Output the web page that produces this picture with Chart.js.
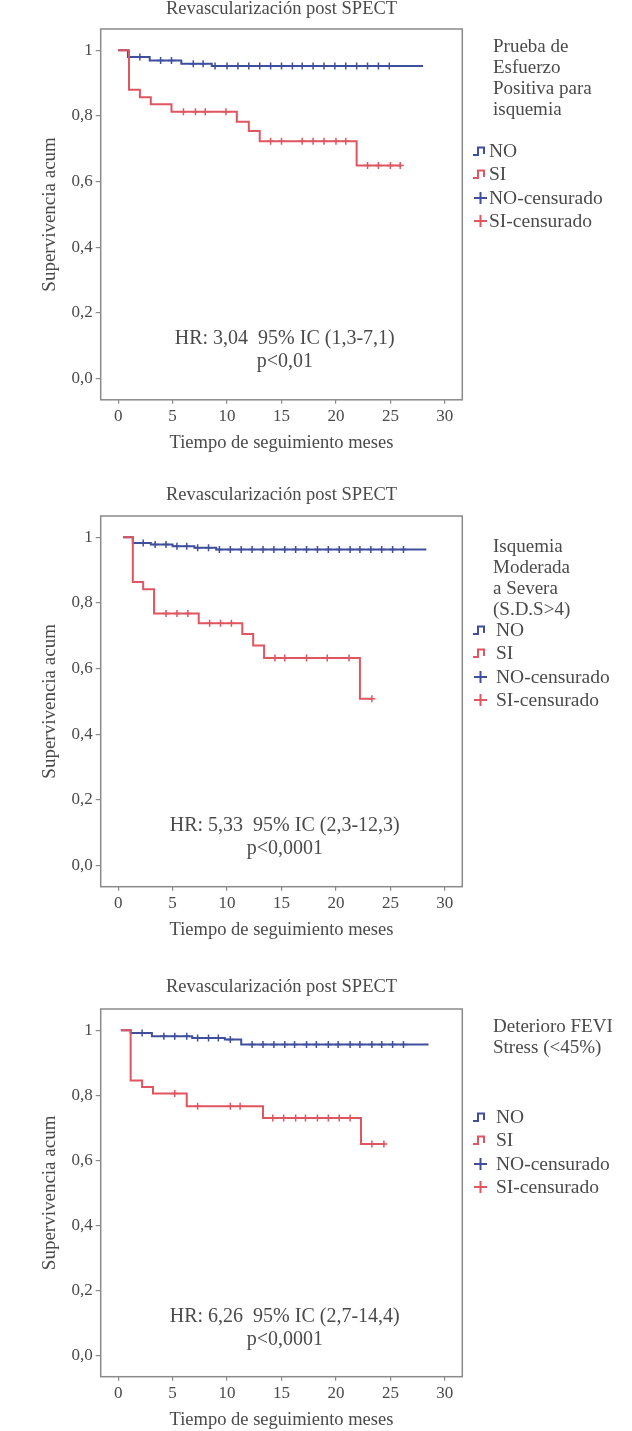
<!DOCTYPE html>
<html><head><meta charset="utf-8">
<script src="https://cdn.jsdelivr.net/npm/chart.js@4.4.1/dist/chart.umd.min.js"></script>
<style>
html,body{margin:0;padding:0;background:#fff;width:632px;height:1431px;overflow:hidden;position:relative}
canvas{position:absolute;left:0}
.lgt{position:absolute;left:493px;font-family:'Liberation Serif',serif;font-size:19px;color:#4a4a4a;line-height:21px;white-space:nowrap}
.lgi{position:absolute;left:473px;font-family:'Liberation Serif',serif;font-size:19.5px;color:#4a4a4a;white-space:nowrap}
.row{display:flex;align-items:center;height:23.5px}
.row svg{flex:none}
</style>
</head><body>
<canvas id="c1"></canvas><canvas id="c2"></canvas><canvas id="c3"></canvas>
<div id="legends"></div>
<script>
// ---- shared labels ----
const chartTitle = 'Revascularización post SPECT';
const xTitle = 'Tiempo de seguimiento meses';
const yTitle = 'Supervivencia acum';
const xTickValues = [0, 5, 10, 15, 20, 25, 30];
const xTickLabels = ['0', '5', '10', '15', '20', '25', '30'];
const yTickValues = [0, 0.2, 0.4, 0.6, 0.8, 1];
const yTickLabels = ['0,0', '0,2', '0,4', '0,6', '0,8', '1'];
const seriesNames = ['NO', 'SI', 'NO-censurado', 'SI-censurado'];

// ---- panel 1: Prueba de Esfuerzo Positiva para isquemia ----
const p1Legend = ['Prueba de', 'Esfuerzo', 'Positiva para', 'isquemia'];
const p1HR = ['HR: 3,04  95% IC (1,3-7,1)', 'p<0,01'];
const p1NoT = [0, 0.9, 2.9, 5.8, 8.6, 28.0];
const p1NoS = [1.0, 0.980, 0.969, 0.959, 0.952, 0.952];
const p1SiT = [0, 1.0, 2.0, 3.0, 4.9, 10.9, 12.0, 13.0, 21.9, 26.0];
const p1SiS = [1.0, 0.880, 0.857, 0.836, 0.813, 0.782, 0.754, 0.723, 0.649, 0.649];
const p1NoCT = [2.0, 3.9, 4.9, 6.9, 7.8, 8.9, 10.0, 11.0, 12.0, 13.0, 14.0, 15.0, 16.0, 16.9, 17.9, 18.9, 19.9, 20.9, 21.9, 22.9, 23.9, 24.9];
const p1NoCS = [0.980, 0.969, 0.969, 0.959, 0.959, 0.952, 0.952, 0.952, 0.952, 0.952, 0.952, 0.952, 0.952, 0.952, 0.952, 0.952, 0.952, 0.952, 0.952, 0.952, 0.952, 0.952];
const p1SiCT = [6.0, 7.1, 8.0, 9.9, 14.0, 15.0, 16.9, 17.9, 18.9, 20.0, 20.9, 22.9, 23.9, 25.0, 25.9];
const p1SiCS = [0.813, 0.813, 0.813, 0.813, 0.723, 0.723, 0.723, 0.723, 0.723, 0.723, 0.723, 0.649, 0.649, 0.649, 0.649];

// ---- panel 2: Isquemia Moderada a Severa (S.D.S>4) ----
const p2Legend = ['Isquemia', 'Moderada', 'a Severa', '(S.D.S>4)'];
const p2HR = ['HR: 5,33  95% IC (2,3-12,3)', 'p<0,0001'];
const p2NoT = [0.45, 1.35, 3.0, 5.0, 7.0, 9.0, 28.3];
const p2NoS = [1.0, 0.983, 0.978, 0.973, 0.968, 0.963, 0.963];
const p2SiT = [0.45, 1.35, 2.3, 3.3, 7.4, 11.4, 12.4, 13.4, 22.2, 23.3];
const p2SiS = [1.0, 0.864, 0.842, 0.768, 0.738, 0.705, 0.670, 0.632, 0.508, 0.508];
const p2NoCT = [2.3, 3.4, 4.4, 5.4, 6.3, 7.3, 8.3, 9.3, 10.3, 11.3, 12.3, 13.3, 14.3, 15.3, 16.3, 17.3, 18.3, 19.3, 20.3, 21.3, 22.2, 23.2, 24.2, 25.2, 26.2];
const p2NoCS = [0.983, 0.978, 0.978, 0.973, 0.973, 0.968, 0.968, 0.963, 0.963, 0.963, 0.963, 0.963, 0.963, 0.963, 0.963, 0.963, 0.963, 0.963, 0.963, 0.963, 0.963, 0.963, 0.963, 0.963, 0.963];
const p2SiCT = [4.4, 5.4, 6.4, 8.4, 9.4, 10.4, 14.4, 15.3, 17.3, 19.2, 21.2, 23.3];
const p2SiCS = [0.768, 0.768, 0.768, 0.738, 0.738, 0.738, 0.632, 0.632, 0.632, 0.632, 0.632, 0.508];

// ---- panel 3: Deterioro FEVI Stress (<45%) ----
const p3Legend = ['Deterioro FEVI', 'Stress (<45%)'];
const p3HR = ['HR: 6,26  95% IC (2,7-14,4)', 'p<0,0001'];
const p3NoT = [0.25, 1.15, 3.1, 6.8, 9.8, 11.3, 28.5];
const p3NoS = [1.0, 0.991, 0.981, 0.976, 0.971, 0.956, 0.956];
const p3SiT = [0.25, 1.15, 2.2, 3.2, 6.3, 13.3, 22.3, 24.5];
const p3SiS = [1.0, 0.845, 0.825, 0.805, 0.766, 0.730, 0.650, 0.650];
const p3NoCT = [2.2, 4.2, 5.2, 6.3, 7.3, 8.3, 9.2, 10.3, 12.3, 13.3, 14.3, 15.3, 16.2, 17.3, 18.2, 19.3, 20.2, 21.3, 22.2, 23.3, 24.2, 25.2, 26.2];
const p3NoCS = [0.991, 0.981, 0.981, 0.981, 0.976, 0.976, 0.976, 0.971, 0.956, 0.956, 0.956, 0.956, 0.956, 0.956, 0.956, 0.956, 0.956, 0.956, 0.956, 0.956, 0.956, 0.956, 0.956];
const p3SiCT = [5.2, 7.3, 10.3, 11.2, 14.2, 15.2, 16.3, 17.2, 18.3, 19.3, 20.3, 21.3, 23.3, 24.4];
const p3SiCS = [0.805, 0.766, 0.766, 0.766, 0.730, 0.730, 0.730, 0.730, 0.730, 0.730, 0.730, 0.730, 0.650, 0.650];

// ---- styling ----
const BLUE = '#3f4f9e';
const RED = '#df5560';
const TXT = '#4a4a4a';
const FONT = "'Liberation Serif', 'Times New Roman', serif";
const XAXIS_H = 60.7;
const BOX_L = 100.7, BOX_R = 462.3;

function pts(t, s) { return t.map((v, i) => ({ x: v, y: s[i] })); }

const boxPlugin = {
  id: 'box',
  beforeDatasetsDraw(chart) {
    const { ctx, chartArea: a } = chart;
    ctx.save();
    ctx.strokeStyle = '#8a8a8a';
    ctx.lineWidth = 1.5;
    ctx.strokeRect(a.left, a.top, a.right - a.left, a.bottom - a.top);
    ctx.restore();
  }
};
const hrPlugin = {
  id: 'hr',
  afterDraw(chart, args, opts) {
    const { ctx } = chart;
    const xs = chart.scales.x, ys = chart.scales.y;
    ctx.save();
    ctx.fillStyle = TXT;
    ctx.font = '20px ' + FONT;
    ctx.textAlign = 'center';
    ctx.textBaseline = 'middle';
    opts.lines.forEach((t, i) => {
      ctx.fillText(t, xs.getPixelForValue(opts.x), ys.getPixelForValue(opts.y[i]));
    });
    ctx.restore();
  }
};

function panel(id, g, d) {
  const canvasTop = g.boxTop - 46;
  const cv = document.getElementById(id);
  const H = Math.ceil(g.boxBottom - canvasTop + XAXIS_H);
  cv.width = 632; cv.height = H;
  cv.style.width = '632px'; cv.style.height = H + 'px';
  cv.style.top = canvasTop + 'px';
  const padTop = g.titleY - canvasTop - 11.1;
  const titlePB = g.boxTop - canvasTop - padTop - 22.2;
  const padBottom = H - (g.boxBottom - canvasTop) - XAXIS_H;
  new Chart(cv, {
    type: 'line',
    data: {
      datasets: [
        { label: seriesNames[1], data: pts(d.siT, d.siS), stepped: 'before', borderColor: RED, borderWidth: 2, pointRadius: 0, fill: false, order: 1 },
        { label: seriesNames[0], data: pts(d.noT, d.noS), stepped: 'before', borderColor: BLUE, borderWidth: 2, pointRadius: 0, fill: false, order: 2 },
        { label: seriesNames[3], type: 'scatter', data: pts(d.siCT, d.siCS), showLine: false, pointStyle: 'cross', pointRadius: 3.5, borderColor: RED, backgroundColor: RED, borderWidth: 1.5, order: 0 },
        { label: seriesNames[2], type: 'scatter', data: pts(d.noCT, d.noCS), showLine: false, pointStyle: 'cross', pointRadius: 3.5, borderColor: BLUE, backgroundColor: BLUE, borderWidth: 1.5, order: 0 }
      ]
    },
    options: {
      responsive: false, animation: false, events: [],
      layout: { padding: { top: padTop, bottom: padBottom, left: 0, right: 632 - BOX_R } },
      plugins: {
        legend: { display: false }, tooltip: { enabled: false },
        title: { display: true, text: chartTitle, fullSize: false, color: TXT, font: { family: FONT, size: 18.5, weight: 'normal' }, padding: { top: 0, bottom: titlePB } },
        hr: { lines: d.hr, x: 15.3, y: [0.12, 0.05] }
      },
      scales: {
        x: {
          type: 'linear', min: -1.6, max: 31.6,
          afterBuildTicks: s => { s.ticks = xTickValues.map(v => ({ value: v })); },
          afterFit: s => { s.height = XAXIS_H; },
          ticks: { callback: v => xTickLabels[xTickValues.indexOf(v)], color: TXT, font: { family: FONT, size: 17 }, padding: 3, maxRotation: 0, autoSkip: false },
          grid: { drawOnChartArea: false, drawTicks: true, tickLength: 4, color: '#8a8a8a', lineWidth: 1.2 },
          border: { display: false },
          title: { display: true, text: xTitle, color: TXT, font: { family: FONT, size: 18.5 }, padding: { top: 0, bottom: 6.2 } }
        },
        y: {
          type: 'linear', min: -0.065, max: 1.065,
          afterBuildTicks: s => { s.ticks = yTickValues.map(v => ({ value: v })); },
          afterFit: s => { s.width = BOX_L; },
          ticks: { callback: v => yTickLabels[yTickValues.indexOf(v)], color: TXT, font: { family: FONT, size: 17 }, padding: 3 },
          grid: { drawOnChartArea: false, drawTicks: true, tickLength: 5, color: '#8a8a8a', lineWidth: 1.2 },
          border: { display: false },
          title: { display: true, text: yTitle, color: TXT, font: { family: FONT, size: 19 }, padding: { top: 38.6, bottom: 0 } }
        }
      }
    },
    plugins: [boxPlugin, hrPlugin]
  });
}

panel('c1', { boxTop: 28.5, boxBottom: 399.3, titleY: 8.5 },
  { noT: p1NoT, noS: p1NoS, siT: p1SiT, siS: p1SiS, noCT: p1NoCT, noCS: p1NoCS, siCT: p1SiCT, siCS: p1SiCS, hr: p1HR });
panel('c2', { boxTop: 516, boxBottom: 886.7, titleY: 495 },
  { noT: p2NoT, noS: p2NoS, siT: p2SiT, siS: p2SiS, noCT: p2NoCT, noCS: p2NoCS, siCT: p2SiCT, siCS: p2SiCS, hr: p2HR });
panel('c3', { boxTop: 1009, boxBottom: 1376.7, titleY: 987 },
  { noT: p3NoT, noS: p3NoS, siT: p3SiT, siS: p3SiS, noCT: p3NoCT, noCS: p3NoCS, siCT: p3SiCT, siCS: p3SiCS, hr: p3HR });

// ---- HTML legends ----
function stepIcon(c) { return '<svg width="15" height="12"><polyline points="0,10 5,10 5,2.5 11,2.5 11,9" fill="none" stroke="' + c + '" stroke-width="2"/></svg>'; }
function crossIcon(c) { return '<svg width="15" height="14"><path d="M1,7H14M7.5,1V13" stroke="' + c + '" stroke-width="2"/></svg>'; }
function legend(titleLines, titleTop, itemsTop, gap) {
  const host = document.getElementById('legends');
  const t = document.createElement('div');
  t.className = 'lgt'; t.style.top = titleTop + 'px';
  t.innerHTML = titleLines.map(s => s.replace(/</g, '&lt;').replace(/>/g, '&gt;')).join('<br>');
  host.appendChild(t);
  const it = document.createElement('div');
  it.className = 'lgi'; it.style.top = itemsTop + 'px';
  const icons = [stepIcon(BLUE), stepIcon(RED), crossIcon(BLUE), crossIcon(RED)];
  it.innerHTML = seriesNames.map((n, i) => '<div class="row">' + icons[i] + '<span style="margin-left:' + gap + 'px">' + n + '</span></div>').join('');
  host.appendChild(it);
}
legend(p1Legend, 35, 139, 1);
legend(p2Legend, 535, 618, 8);
legend(p3Legend, 1015, 1105, 8);
</script>
</body></html>
